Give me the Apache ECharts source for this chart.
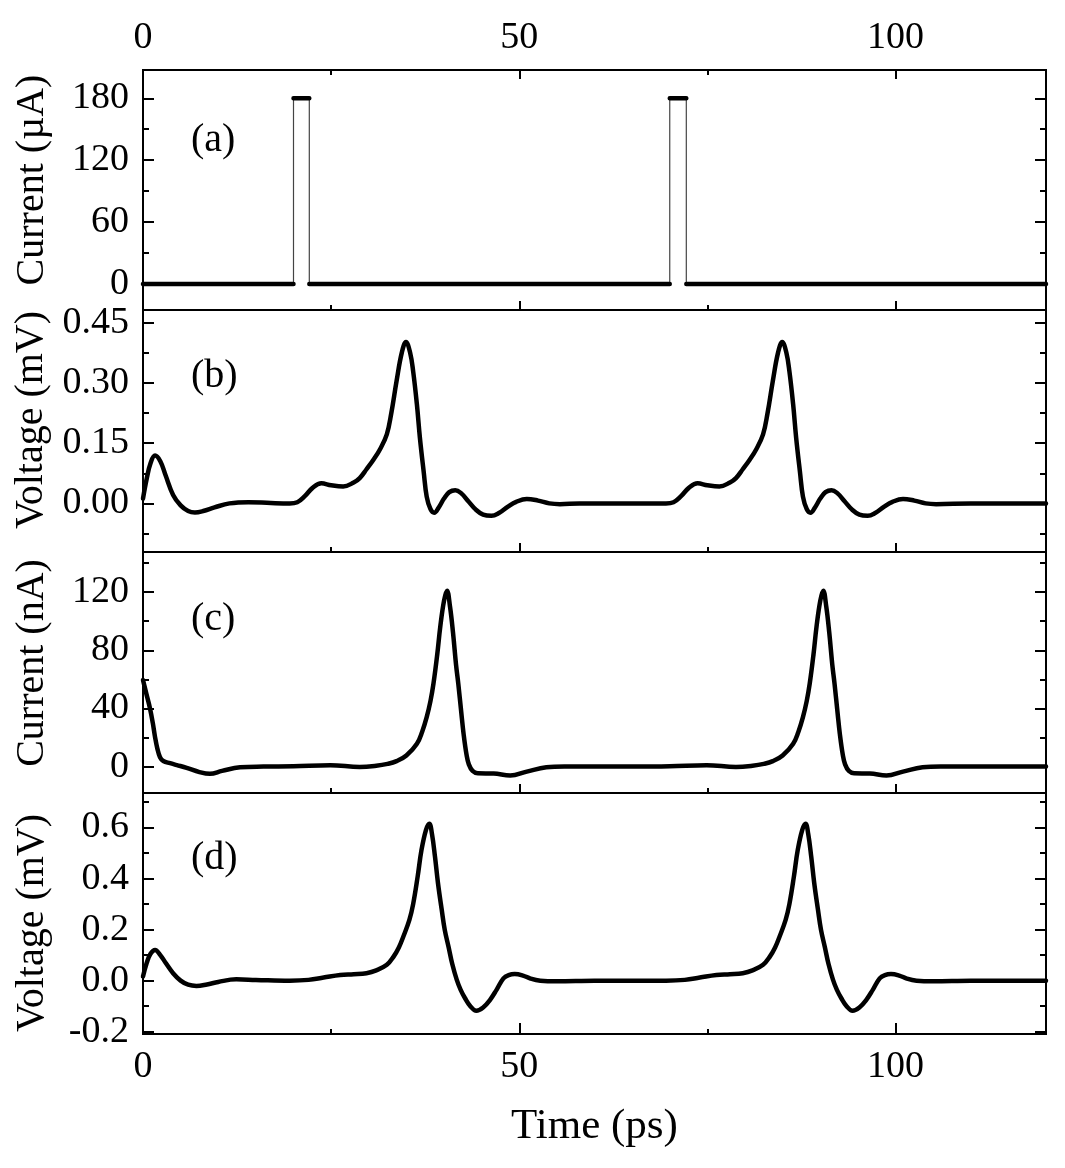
<!DOCTYPE html>
<html>
<head>
<meta charset="utf-8">
<script src="https://cdn.jsdelivr.net/npm/echarts@6/dist/echarts.min.js"></script>
<style>
  html, body { margin: 0; padding: 0; background: #fff; }
  #chart { width: 1065px; height: 1168px; }
</style>
</head>
<body>
<div id="chart"></div>
<script>
// shared time axis
const timeTicks = [0, 50, 100];
const timeMinorTicks = [25, 75];

// (a) input current pulses, µA
const pulseTime = [0, 20, 20, 22.1, 22.1, 70, 70, 72.2, 72.2, 120];
const pulseCurrent = [0, 0, 180, 180, 0, 0, 180, 180, 0, 0];

// (b) voltage, mV
const bTime = [0, 0.5, 1.0, 1.6, 2.3, 3.0, 4.0, 5.0, 6.0, 6.9, 8.0, 9.5, 11.5, 14, 17, 19.5,
  20.5, 21.5, 22.5, 23.7, 25.0, 26.6, 28.0, 28.8, 29.7, 30.6, 31.5, 32.4, 33.0, 33.7, 34.4, 34.95,
  35.5, 35.9, 36.4, 36.8, 37.3, 37.7, 38.2, 38.7, 39.3, 40.0, 40.7, 41.5, 42.3, 43.2, 44.2, 45.2,
  46.3, 47.3, 48.5, 49.6, 51.0, 52.5, 54.0, 55.4, 58, 62, 66, 69.5,
  70.5, 71.5, 72.5, 73.7, 75.0, 76.6, 78.0, 78.8, 79.7, 80.6, 81.5, 82.4, 83.0, 83.7, 84.4, 84.95,
  85.5, 85.9, 86.4, 86.8, 87.3, 87.7, 88.2, 88.7, 89.3, 90.0, 90.7, 91.5, 92.3, 93.2, 94.2, 95.2,
  96.3, 97.3, 98.5, 99.6, 101.0, 102.5, 104.0, 105.4, 110, 115, 120];
const bVoltage = [0.012, 0.062, 0.10, 0.119, 0.105, 0.07, 0.021, -0.005, -0.019, -0.0225, -0.019, -0.01, 0.0, 0.003, 0.001, 0.0,
  0.003, 0.018, 0.038, 0.05, 0.045, 0.042, 0.052, 0.063, 0.085, 0.108, 0.135, 0.172, 0.225, 0.305, 0.376, 0.402,
  0.375, 0.329, 0.246, 0.163, 0.079, 0.017, -0.014, -0.023, -0.01, 0.012, 0.028, 0.033, 0.025, 0.006, -0.015, -0.028,
  -0.031, -0.024, -0.008, 0.004, 0.011, 0.007, 0.0, -0.002, 0.0, 0.0, 0.0, 0.0,
  0.003, 0.018, 0.038, 0.05, 0.045, 0.042, 0.052, 0.063, 0.085, 0.108, 0.135, 0.172, 0.225, 0.305, 0.376, 0.402,
  0.375, 0.329, 0.246, 0.163, 0.079, 0.017, -0.014, -0.023, -0.01, 0.012, 0.028, 0.033, 0.025, 0.006, -0.015, -0.028,
  -0.031, -0.024, -0.008, 0.004, 0.011, 0.007, 0.0, -0.002, 0.0, 0.0, 0.0];

// (c) current, nA
const cTime = [0, 0.45, 0.93, 1.3, 1.6, 1.9, 2.26, 2.7, 3.6, 4.5, 5.8, 7.5, 8.9, 10.5, 12.9, 16, 20, 24.9, 28.8,
  31.0, 32.5, 33.7, 35.0, 36.4, 37.1, 37.7, 38.2, 38.6, 39.1, 39.5, 40.0, 40.4, 40.8, 41.2, 41.6, 41.9,
  42.3, 42.6, 43.0, 43.3, 43.8, 44.5, 46.6, 48.8, 51.0, 53.6, 56, 60, 65,
  70, 74.9, 78.8, 81.0, 82.5, 83.7, 85.0, 86.4, 87.1, 87.7, 88.2, 88.6, 89.1, 89.5, 90.0, 90.4, 90.8,
  91.2, 91.6, 91.9, 92.3, 92.6, 93.0, 93.3, 93.8, 94.5, 96.6, 98.8, 101.0, 103.6, 106, 112, 120];
const cCurrent = [59.5, 50, 40, 30, 20.3, 12.5, 6.4, 3.8, 2.3, 1.0, -0.9, -3.8, -5.0, -3.0, -0.5, 0.0, 0.2, 0.9, -0.3,
  0.5, 1.8, 3.7, 7.6, 15.7, 24, 34, 45, 57, 77, 96, 114, 121, 110, 92, 70, 57,
  37, 22.6, 8, 1.5, -3, -4.6, -4.8, -6.2, -3.5, -0.5, 0.0, 0.0, 0.0,
  0.2, 0.9, -0.3, 0.5, 1.8, 3.7, 7.6, 15.7, 24, 34, 45, 57, 77, 96, 114, 121, 110,
  92, 70, 57, 37, 22.6, 8, 1.5, -3, -4.6, -4.8, -6.2, -3.5, -0.5, 0.0, 0.0, 0.0];

// (d) voltage, mV
const dTime = [0, 0.5, 1.0, 1.6, 2.3, 3.0, 4.0, 5.0, 6.0, 7.1, 8.5, 10.0, 12.4, 15.0, 19.5, 22.0, 24.0, 26.2,
  28.0, 29.7, 31.0, 32.4, 33.3, 34.0, 34.6, 35.4, 35.9, 36.5, 37.0, 37.6, 38.05, 38.4, 38.8, 39.2, 39.7,
  40.1, 40.6, 41.1, 41.7, 42.2, 42.8, 43.5, 44.3, 45.2, 46.1, 47.0, 47.9, 48.6, 49.4, 50.5, 51.5, 52.8,
  55.0, 60, 65, 69.5, 72.0, 74.0, 76.2,
  78.0, 79.7, 81.0, 82.4, 83.3, 84.0, 84.6, 85.4, 85.9, 86.5, 87.0, 87.6, 88.05, 88.4, 88.8, 89.2, 89.7,
  90.1, 90.6, 91.1, 91.7, 92.2, 92.8, 93.5, 94.3, 95.2, 96.1, 97.0, 97.9, 98.6, 99.4, 100.5, 101.5, 102.8,
  105.0, 110, 120];
const dVoltage = [0.016, 0.07, 0.105, 0.12, 0.1, 0.07, 0.029, 0.0, -0.016, -0.021, -0.015, -0.005, 0.005, 0.003, 0.0, 0.003, 0.012, 0.022,
  0.025, 0.029, 0.04, 0.062, 0.094, 0.13, 0.173, 0.238, 0.30, 0.408, 0.51, 0.59, 0.615, 0.575, 0.486, 0.382, 0.277,
  0.199, 0.133, 0.065, 0.003, -0.035, -0.069, -0.1, -0.118, -0.105, -0.076, -0.035, 0.009, 0.022, 0.026, 0.02, 0.008, 0.0,
  -0.002, 0.0, 0.0, 0.0, 0.003, 0.012, 0.022,
  0.025, 0.029, 0.04, 0.062, 0.094, 0.13, 0.173, 0.238, 0.30, 0.408, 0.51, 0.59, 0.615, 0.575, 0.486, 0.382, 0.277,
  0.199, 0.133, 0.065, 0.003, -0.035, -0.069, -0.1, -0.118, -0.105, -0.076, -0.035, 0.009, 0.022, 0.026, 0.02, 0.008, 0.0,
  -0.002, 0.0, 0.0];

// y tick values
const aTicks = [0, 60, 120, 180];
const aMinor = [30, 90, 150];
const bTicks = [0, 0.15, 0.3, 0.45];
const bMinor = [-0.075, 0.075, 0.225, 0.375];
const cTicks = [0, 40, 80, 120];
const cMinor = [20, 60, 100, 140];
const dTicks = [-0.2, 0, 0.2, 0.4, 0.6];
const dMinor = [-0.1, 0.1, 0.3, 0.5, 0.7];

const FONT = "'Liberation Serif', 'Times New Roman', serif";
const zip = (xs, ys) => xs.map((x, i) => [x, ys[i]]);

const panels = [
  { top: 70, height: 240, min: -25.2, max: 207.4, name: "Current (µA)", ticks: aTicks, minor: aMinor, digits: 0, tag: "(a)", tagY: 140, pad: [0, 0, 0, 20] },
  { top: 310, height: 242, min: -0.121, max: 0.4815, name: "Voltage (mV)", ticks: bTicks, minor: bMinor, digits: 2, tag: "(b)", tagY: 376, pad: [0, 0, 0, 22] },
  { top: 552, height: 241, min: -18.2, max: 147.6, name: "Current (nA)", ticks: cTicks, minor: cMinor, digits: 0, tag: "(c)", tagY: 619, pad: [0, 0, 0, 19] },
  { top: 793, height: 241, min: -0.209, max: 0.735, name: "Voltage (mV)", ticks: dTicks, minor: dMinor, digits: 1, tag: "(d)", tagY: 858, pad: [0, 19, 0, 0] },
];

const black = { color: "#000", width: 2 };

function xAxis(gridIndex, position, values, len, labels, name) {
  return {
    type: "value", gridIndex, position, min: 0, max: 120,
    axisLine: { show: true, onZero: false, lineStyle: black },
    axisTick: { show: true, inside: true, length: len, customValues: values, lineStyle: black },
    axisLabel: {
      show: labels, customValues: values, margin: position === "top" ? 13 : 14,
      fontFamily: FONT, fontSize: 38, color: "#000",
    },
    splitLine: { show: false },
    name: name || "", nameLocation: "middle", nameGap: 71,
    nameTextStyle: { fontFamily: FONT, fontSize: 43, color: "#000" },
  };
}

function yAxis(gridIndex, position, p, values, len, labels) {
  return {
    type: "value", gridIndex, position, min: p.min, max: p.max,
    axisLine: { show: true, onZero: false, lineStyle: black },
    axisTick: { show: true, inside: true, length: len, customValues: values, lineStyle: black },
    axisLabel: {
      show: labels, customValues: values, margin: 14,
      formatter: (v) => v.toFixed(p.digits),
      fontFamily: FONT, fontSize: 38, color: "#000",
    },
    splitLine: { show: false },
    name: labels ? p.name : "", nameLocation: "middle", nameGap: 91, nameRotate: 90,
    nameTextStyle: { fontFamily: FONT, fontSize: 40, color: "#000", padding: p.pad },
  };
}

const curves = [
  null,
  zip(bTime, bVoltage),
  zip(cTime, cCurrent),
  zip(dTime, dVoltage),
];

// thick horizontal parts of the pulse train, broken where the level changes
const pulseFlat = [];
pulseTime.forEach((t, i) => {
  pulseFlat.push([t, pulseCurrent[i]]);
  if (i < pulseTime.length - 1 && pulseCurrent[i + 1] !== pulseCurrent[i]) pulseFlat.push([t, NaN]);
});

const grids = [], xAxes = [], yAxes = [], series = [], graphic = [];

panels.forEach((p, i) => {
  const rect = { left: 143, width: 903, top: p.top, height: p.height, containLabel: false };
  const gMain = grids.length; grids.push({ ...rect });
  const gMinor = grids.length; grids.push({ ...rect });
  const last = i === panels.length - 1;

  const xMain = xAxes.length;
  xAxes.push(xAxis(gMain, "bottom", timeTicks, last ? 11 : 9, last, last ? "Time (ps)" : ""));
  if (i === 0) xAxes.push(xAxis(gMain, "top", timeTicks, 9, true));
  xAxes.push(xAxis(gMinor, "bottom", timeMinorTicks, 5, false));
  if (i === 0) xAxes.push(xAxis(gMinor, "top", timeMinorTicks, 5, false));

  const yMain = yAxes.length;
  yAxes.push(yAxis(gMain, "left", p, p.ticks, 11, true));
  yAxes.push(yAxis(gMain, "right", p, p.ticks, 11, false));
  yAxes.push(yAxis(gMinor, "left", p, p.minor, 6, false));
  yAxes.push(yAxis(gMinor, "right", p, p.minor, 6, false));

  if (i === 0) {
    series.push({
      type: "line", xAxisIndex: xMain, yAxisIndex: yMain, showSymbol: false,
      data: zip(pulseTime, pulseCurrent),
      lineStyle: { color: "#444", width: 1.2 },
    });
    series.push({
      type: "line", xAxisIndex: xMain, yAxisIndex: yMain, showSymbol: false, connectNulls: false,
      data: pulseFlat,
      lineStyle: { color: "#000", width: 4.5, cap: "round" },
    });
  } else {
    series.push({
      type: "line", xAxisIndex: xMain, yAxisIndex: yMain, showSymbol: false,
      smooth: 0.4, data: curves[i],
      lineStyle: { color: "#000", width: 4.5, cap: "round", join: "round" },
    });
  }

  graphic.push({
    type: "text", x: 191, y: p.tagY,
    style: { text: p.tag, fontFamily: FONT, fontSize: 40, fill: "#000", verticalAlign: "middle" },
  });
});

const chart = echarts.init(document.getElementById("chart"), null, { renderer: "canvas" });
chart.setOption({
  animation: false,
  backgroundColor: "#fff",
  grid: grids,
  xAxis: xAxes,
  yAxis: yAxes,
  series,
  graphic,
});
</script>
</body>
</html>
